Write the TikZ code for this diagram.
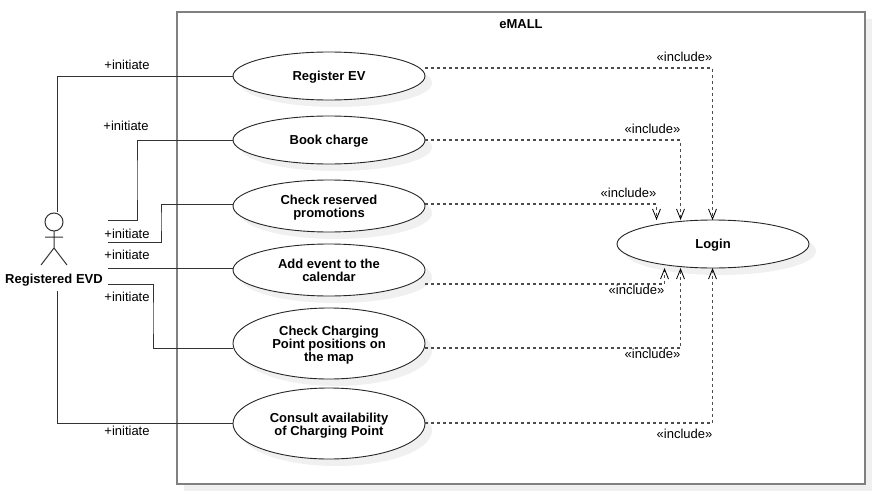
\documentclass[tikz,border=0pt]{standalone}
\usepackage{fontspec}
\setmainfont{Liberation Sans}
\usetikzlibrary{arrows.meta,shapes.geometric,shadows}
\definecolor{shadegray}{HTML}{F0F0F0}
\definecolor{framegray}{HTML}{808080}
\tikzset{
	usecase/.style={draw=black!85, line width=0.9pt, fill=white, ellipse, minimum width=192pt, inner sep=0pt, outer sep=0pt, align=center, font=\fontsize{13}{13}\selectfont\bfseries, execute at begin node={\rule{0pt}{11.5pt}}, drop shadow={shadow xshift=7pt, shadow yshift=-7pt, fill=shadegray, opacity=1}},
	system/.style={draw=framegray, fill=white, line width=2pt, minimum width=688pt, minimum height=472pt, inner sep=0pt, outer sep=0pt, drop shadow={shadow xshift=7pt, shadow yshift=-7pt, fill=shadegray, opacity=1}},
	lab/.style={font=\fontsize{13}{13}\selectfont, inner sep=0pt},
	assoc/.style={draw=black!80, line width=1pt},
	incl/.style={draw=black!70, line width=1.2pt, dash pattern=on 3pt off 3pt, -{Straight Barb[black, length=10pt, width=8pt, line width=0.8pt]}}
}
\begin{document}
\begin{tikzpicture}[x=1pt, y=-1pt, line join=miter]
	\useasboundingbox (0,0) rectangle (878,498);
	\node[system] (emall) at (521,248) {};
	\node[lab, font=\fontsize{13}{13}\selectfont\bfseries] (emalltxt) at (521,24.5) {eMALL};
	% use cases
	\foreach \name/\y/\h/\txt in {reg/76/48/{Register EV}, book/140/48/{Book charge}, res/206/52/{\rule{0pt}{13pt}Check reserved\\promotions}, add/270/52/{Add event to the\\calendar}, map/343.5/71/{\rule{0pt}{13.5pt}Check Charging\\Point positions on\\the map}, cons/423.5/71/{\rule{0pt}{13.5pt}Consult availability\\of Charging Point}}
		\node[usecase, minimum height=\h pt] (\name) at (329,\y) {\txt};
	\node[usecase, minimum height=48pt] (login) at (713,244) {Login};
	% actor
	\draw[assoc] (54,222) circle(9);
	\draw[assoc] (54,231)--(54,248) (45,237)--(63,237) (41,265)--(54,248)--(67,265);
	\node[lab, font=\fontsize{13}{13}\selectfont\bfseries] (evd) at (54,280) {Registered EVD};
	\coordinate (top) at (57,212);
	\coordinate (a1) at (108,220);
	\coordinate (a2) at (108,242);
	\coordinate (a3) at (108,268);
	\coordinate (a4) at (108,284);
	\coordinate (bot) at (57,291);
	% associations
	\draw[assoc] (top)|-(reg.west);
	\draw[assoc] (a1)-|(137,180)|-(book.west);
	\draw[assoc] (a2)-|(161,220)|-([yshift=2pt]res.west);
	\draw[assoc] (a3)--([yshift=2pt]add.west);
	\draw[assoc] (a4)-|(153,320)|-([yshift=-4.5pt]map.west);
	\draw[assoc] (bot)|-([yshift=0.5pt]cons.west);
	% includes
	\draw[incl] ([yshift=8pt]reg.east)-|([xshift=-0.5pt]login.north);
	\draw[incl] (book.east)-|([xshift=-32.5pt]login.north);
	\draw[incl] ([yshift=2pt]res.east)-|(656.5,220);
	\draw[incl] ([yshift=-14pt]add.east)-|(664.5,268);
	\draw[incl] ([yshift=-4.5pt]map.east)-|([xshift=-32.5pt]login.south);
	\draw[incl] ([yshift=0.5pt]cons.east)-|([xshift=-0.5pt]login.south);
	% labels
	\foreach \i/\x/\y in {1/127/64.5,2/126/125.5,3/127/233.5,4/127/254.5,5/127/296.5,6/127/430.5}
		\node[lab] (ini\i) at (\x,\y) {+initiate};
	\foreach \i/\x/\y in {1/684.5/56.5,2/652.5/128.5,3/628.5/192.5,4/636.5/289.5,5/652.5/353.5,6/684.5/433.5}
		\node[lab] (inc\i) at (\x,\y) {«include»};
\end{tikzpicture}
\end{document}
